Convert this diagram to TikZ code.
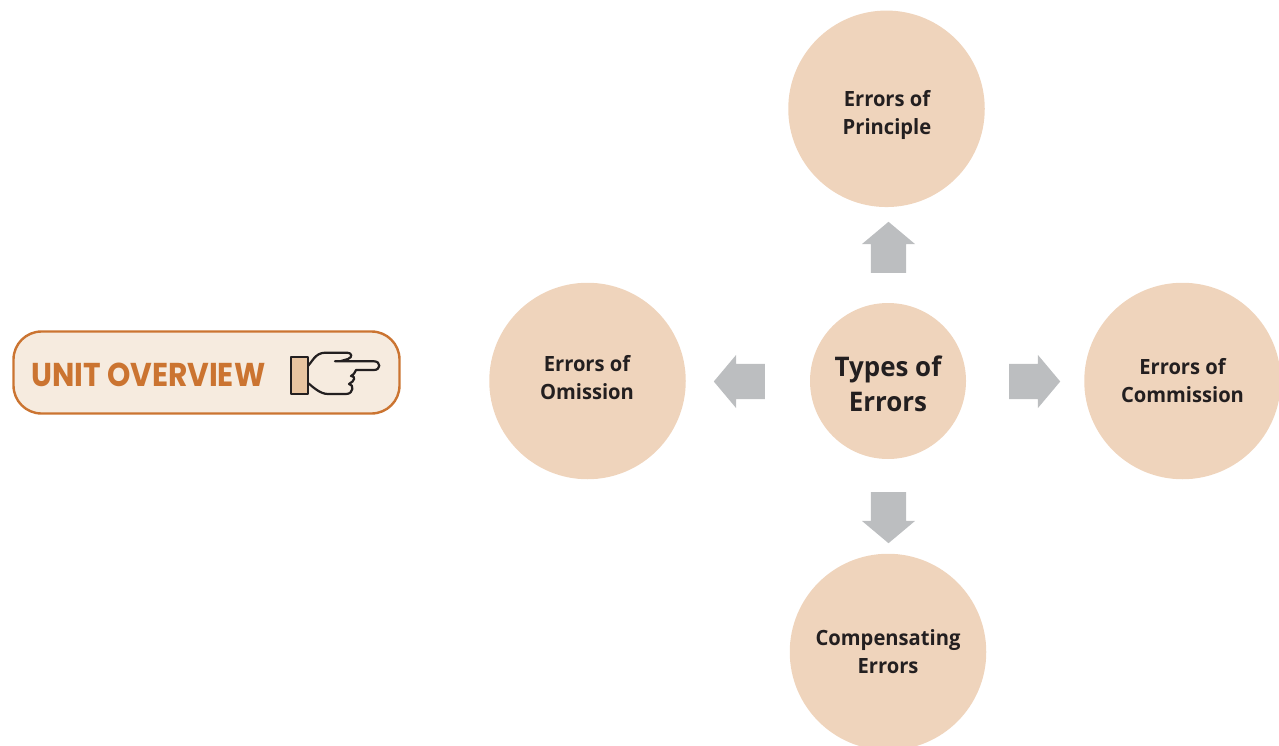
\documentclass[tikz,border=0pt]{standalone}
\usepackage{fontspec}
\usepackage{tikz}
\usetikzlibrary{shapes.arrows}
\setmainfont[FakeStretch=0.96]{Open Sans}
\newfontfamily\unitfont[FakeStretch=0.9]{Poppins}
\definecolor{circlefill}{HTML}{EFD4BC}
\definecolor{arrowgray}{HTML}{BCBEC0}
\definecolor{boxfill}{HTML}{F6EBDF}
\definecolor{boxline}{HTML}{CB7431}
\definecolor{cufffill}{HTML}{E8C4A0}
\definecolor{inktext}{HTML}{231F20}
\tikzset{
  errorcircle/.style={circle, fill=circlefill, minimum size=196.5pt, inner sep=0pt},
  maincircle/.style={errorcircle, minimum size=156pt},
  errortext/.style={inner sep=0pt, align=center, text=inktext, font=\fontsize{21}{28}\selectfont\bfseries},
  maintext/.style={errortext, font=\fontsize{27}{35}\selectfont\bfseries},
  blockarrow/.style={single arrow, anchor=tail, fill=arrowgray, minimum height=51pt,
    single arrow head extend=9pt, single arrow tip angle=100},
  flatarrow/.style={blockarrow, inner xsep=0pt, inner ysep=17.5pt},
  tallarrow/.style={blockarrow, inner xsep=17.5pt, inner ysep=0pt},
}
\begin{document}
\begin{tikzpicture}[x=1pt, y=-1pt]
      \useasboundingbox (0,0) rectangle (1279,746);
      % overview label
      \node[draw=boxline, line width=2.4pt, fill=boxfill, rounded corners=28pt, minimum width=386pt,
        minimum height=82pt, inner sep=0pt] (overview) at (206.5,372.5) {};
      \node[anchor=west, inner sep=0pt, text=boxline, font=\unitfont\fontsize{33}{33}\selectfont\bfseries]
        (overviewtext) at (31,375) {UNIT OVERVIEW};
      % pointing hand
      \draw[line width=2.2pt, draw=inktext, fill=cufffill, line join=round] (291,357) rectangle (308,394);
      \draw[line width=2.2pt, draw=inktext, line join=round, line cap=round]
        (308,366) .. controls (312,362) and (315,353) .. (325,352.7) -- (347,352.7)
        .. controls (352,352.7) and (353,357) .. (348,359) -- (340,361.3)
        (335,361.3) -- (374,361.3) .. controls (381,361.3) and (381,370) .. (374,370) -- (356,370)
        .. controls (354,372) and (356,373) .. (351,376)
        .. controls (356,376) and (355,381) .. (349,384)
        .. controls (354,384) and (354,394) .. (346,394) -- (328,394)
        .. controls (320,394) and (313,387) .. (308,383);
      % circles
      \node[maincircle] (types) at (888,381) {};
      \node[errorcircle] (principle) at (886.5,108.8) {};
      \node[errorcircle] (omission) at (587.5,381) {};
      \node[errorcircle] (commission) at (1182.5,381) {};
      \node[errorcircle] (compensating) at (888,652) {};
      % texts
      \node[maintext] (typestext) at (888,383.5) {Types of\\Errors};
      \node[errortext] (principletext) at (887,115) {Errors of\\Principle};
      \node[errortext] (omissiontext) at (587,377.5) {Errors of\\Omission};
      \node[errortext] (commissiontext) at (1182.5,380.5) {Errors of\\Commission};
      \node[errortext] (compensatingtext) at (888,651.5) {Compensating\\Errors};
      % arrows
      \node[tallarrow, shape border rotate=90] (uparrow) at (888.5,273) {};
      \node[flatarrow, shape border rotate=180] (leftarrow) at (765,381.5) {};
      \node[flatarrow] (rightarrow) at (1009,381.5) {};
      \node[tallarrow, shape border rotate=270] (downarrow) at (888.5,492) {};
  \end{tikzpicture}
\end{document}
